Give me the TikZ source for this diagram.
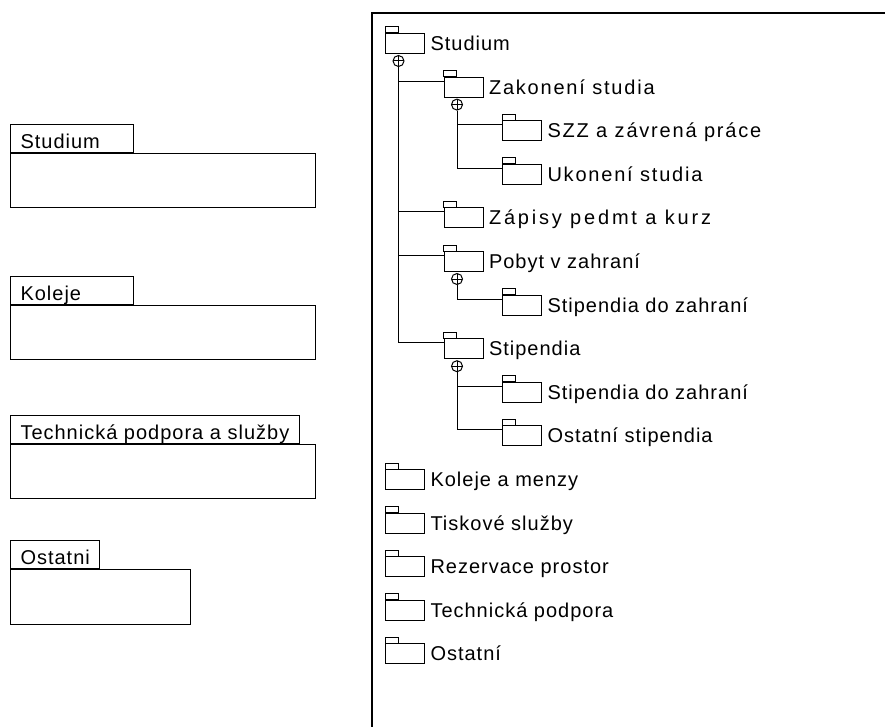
\documentclass[tikz,border=0pt]{standalone}
\usepackage{fontspec}
\setmainfont{Liberation Sans}
\newcommand{\tabfont}{\fontsize{20}{22}\selectfont\addfontfeature{LetterSpace=5}}

\tikzset{
  pkgtab/.style={draw, anchor=south west, inner xsep=10pt, inner ysep=0pt,
    text height=24pt, text depth=4pt, font=\tabfont},
  pkgbody/.style={draw, anchor=north west, inner sep=0pt, minimum height=54pt},
  folder/.style={draw, anchor=north west, inner sep=0pt,
    minimum width=39pt, minimum height=20pt},
  plus/.style={circle, draw, fill=white, inner sep=0pt, minimum size=11pt,
    path picture={\draw (path picture bounding box.north) -- (path picture bounding box.south)
      (path picture bounding box.west) -- (path picture bounding box.east);}},
}

\begin{document}
\begin{tikzpicture}[x=1pt, y=-1pt, line width=1pt]
\useasboundingbox (0,0) rectangle (885,727);

% Packages on the left
\node[pkgtab] (tabStudium) at (10,153) {\makebox[103pt][l]{Studium}};
\node[pkgbody, minimum width=305pt] (bodyStudium) at (tabStudium.south west) {};

\node[pkgtab] (tabKoleje) at (10,305) {\makebox[103pt][l]{Koleje}};
\node[pkgbody, minimum width=305pt] (bodyKoleje) at (tabKoleje.south west) {};

\node[pkgtab] (tabTechnika) at (10,444) {Technická podpora a služby};
\node[pkgbody, minimum width=305pt] (bodyTechnika) at (tabTechnika.south west) {};

\node[pkgtab] (tabOstatni) at (10,569) {Ostatni};
\node[pkgbody, minimum width=180pt, minimum height=55pt] (bodyOstatni) at (tabOstatni.south west) {};

% Frame of the tree
\draw[line width=1.3pt] (885,13) -- (372,13) -- (372,727);

% Folders of the tree
\foreach \nm/\n/\lvl/\ls/\txt in {
    studium/0/0/5/Studium,
    zakonceni/1/1/9/Zakonení studia,
    szz/2/2/9/SZZ a závrená práce,
    ukonceni/3/2/9/Ukonení studia,
    zapisy/4/1/14/Zápisy pedmt a kurz,
    pobyt/5/1/5/Pobyt v zahraní,
    stipZahrA/6/2/5/Stipendia do zahraní,
    stipendia/7/1/5/Stipendia,
    stipZahrB/8/2/5/Stipendia do zahraní,
    stipOstatni/9/2/5/Ostatní stipendia,
    koleje/10/0/5/Koleje a menzy,
    tisk/11/0/5/Tiskové služby,
    rezervace/12/0/5/Rezervace prostor,
    technika/13/0/5/Technická podpora,
    ostatni/14/0/5/Ostatní}{
  \pgfmathsetmacro{\fx}{385+58.5*\lvl}
  \pgfmathsetmacro{\fy}{33+43.6*\n}
  \node[folder] (\nm) at (\fx,\fy) {};
  \draw (\nm.north west) rectangle ++(13,-6);
  \node[anchor=base west, inner sep=0pt,
    font=\fontsize{20}{22}\selectfont\addfontfeature{LetterSpace=\ls}]
    (\nm Label) at ([xshift=5pt,yshift=-7pt]\nm.east) {\txt};
}

% Expand markers
\foreach \nm in {studium, zakonceni, pobyt, stipendia}
  \node[plus] (\nm Plus) at ([xshift=13.5pt,yshift=-7pt]\nm.south west) {};

% Connectors
\foreach \up/\kid in {studium/zakonceni, studium/zapisy, studium/pobyt, studium/stipendia,
    zakonceni/szz, zakonceni/ukonceni, pobyt/stipZahrA,
    stipendia/stipZahrB, stipendia/stipOstatni}
  \draw (\up Plus.south) |- ([yshift=-4.5pt]\kid.north west);

\end{tikzpicture}
\end{document}
